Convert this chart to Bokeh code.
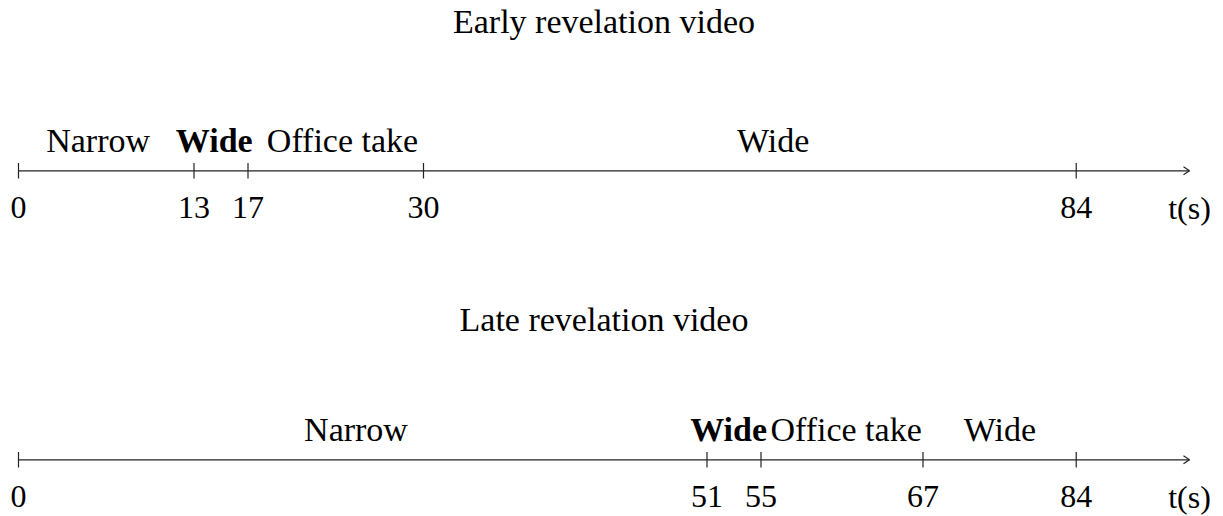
from bokeh.plotting import figure
from bokeh.models import Range1d
from bokeh.core.properties import value
from bokeh.embed import file_html
from bokeh.resources import INLINE

# ---- data ----
early_title = "Early revelation video"
early_cuts = [0, 13, 17, 30, 84]
early_shots = ["Narrow", "Wide", "Office take", "Wide"]
early_bold = [False, True, False, False]
early_label_t = [5.9, 14.5, 24.0, 55.9]      # where each shot name sits (s)

late_title = "Late revelation video"
late_cuts = [0, 51, 55, 67, 84]
late_shots = ["Narrow", "Wide", "Office take", "Wide"]
late_bold = [False, True, False, False]
late_label_t = [25.0, 52.6, 61.3, 72.7]

unit_label = "t(s)"

# ---- layout constants ----
K = 13.5             # px per second
END_DRAWN = 78.35    # the video end is drawn compressed in the original diagram
AXIS_END = 86.74     # arrow tip
W, H = 1223, 516
FONT = "Liberation Serif"
LINE_COLOR = "#222222"
TXT_SHIFT = 12.5     # compensation for baseline placement


def pos(t):
    return END_DRAWN if t >= 84 else t


def py(page_y):
    return H - page_y


def ty(page_y):
    return H - page_y + TXT_SHIFT


p = figure(width=W, height=H,
           x_range=Range1d(-18 / K, -18 / K + W / K),
           y_range=Range1d(0, H),
           output_backend="svg", toolbar_location=None,
           x_axis_location=None, y_axis_location=None,
           min_border=0)
p.grid.visible = False
p.outline_line_color = None
p.background_fill_color = "white"
p.border_fill_color = "white"


def draw_timeline(title, cuts, shots, bold, label_t, y_title, y_label, y_axis, y_tick):
    xs = [pos(t) for t in cuts]
    ya = py(y_axis)
    # axis line
    p.line([0, AXIS_END], [ya, ya], line_color=LINE_COLOR, line_width=1.2)
    # arrow head
    ah = 6 / K
    p.segment(x0=[AXIS_END, AXIS_END], y0=[ya, ya],
              x1=[AXIS_END - ah, AXIS_END - ah], y1=[ya + 4, ya - 4],
              line_color=LINE_COLOR, line_width=1.2)
    # ticks
    p.segment(x0=xs, y0=[ya - 7.7] * len(xs), x1=xs, y1=[ya + 7.7] * len(xs),
              line_color=LINE_COLOR, line_width=1.2)
    # tick labels
    p.text(x=xs, y=[ty(y_tick)] * len(xs), text=[str(t) for t in cuts],
           text_align="center", text_baseline="alphabetic",
           text_font=value(FONT), text_font_size="32px", text_color="black")
    p.text(x=[AXIS_END], y=[ty(y_tick)], text=[unit_label],
           text_align="center", text_baseline="alphabetic",
           text_font=value(FONT), text_font_size="32px", text_color="black")
    # shot labels
    for i, s in enumerate(shots):
        p.text(x=[label_t[i]], y=[ty(y_label)], text=[s],
               text_align="center", text_baseline="alphabetic",
               text_font=value(FONT), text_font_size="34px",
               text_font_style="bold" if bold[i] else "normal",
               text_color="black")
    # title
    p.text(x=[AXIS_END / 2], y=[ty(y_title)], text=[title],
           text_align="center", text_baseline="alphabetic",
           text_font=value(FONT), text_font_size="34px", text_color="black")


draw_timeline(early_title, early_cuts, early_shots, early_bold, early_label_t,
              y_title=33.3, y_label=152, y_axis=170.3, y_tick=219.5)
draw_timeline(late_title, late_cuts, late_shots, late_bold, late_label_t,
              y_title=331.7, y_label=441, y_axis=459.3, y_tick=508.5)

open("out.html", "w").write(file_html(p, INLINE))
